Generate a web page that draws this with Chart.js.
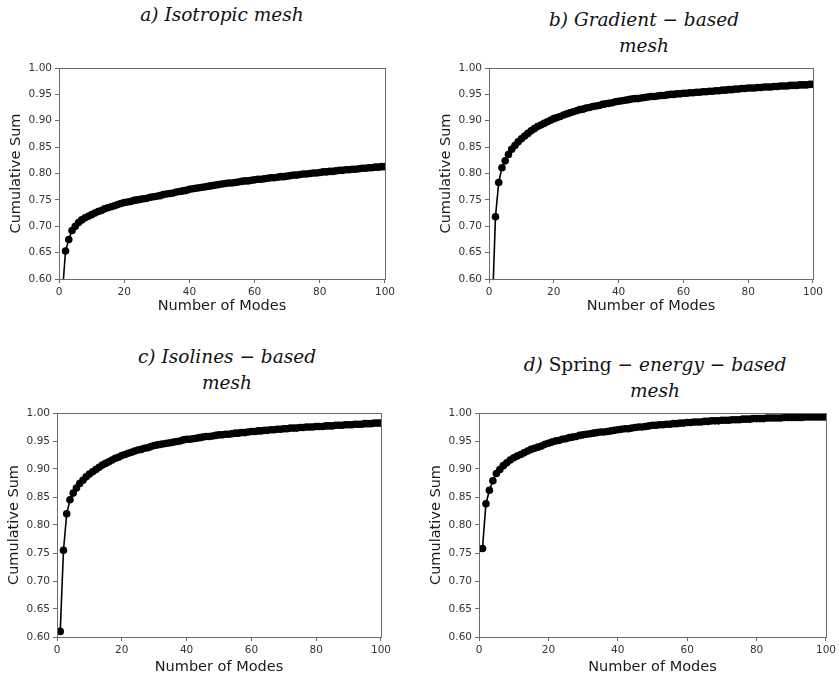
<!DOCTYPE html>
<html>
<head>
<meta charset="utf-8">
<script src="https://cdn.jsdelivr.net/npm/chart.js@4/dist/chart.umd.min.js"></script>
<style>
  body { margin: 0; background: #fff; width: 839px; height: 681px; position: relative; overflow: hidden; }
  canvas { position: absolute; }
  .ttl {
    position: absolute; width: 400px; text-align: center;
    font-family: "DejaVu Serif", serif; font-style: italic; font-size: 18.5px;
    line-height: 26px; color: #111; white-space: nowrap;
  }
  .up { font-style: normal; }
</style>
</head>
<body>
<div class="ttl" style="left:22px; top:2px;">a) Isotropic mesh</div>
<div class="ttl" style="left:444px; top:7px;">b) Gradient − based<br>mesh</div>
<div class="ttl" style="left:27px; top:344px;">c) Isolines − based<br>mesh</div>
<div class="ttl" style="left:455px; top:352px;">d) <span class="up">Spring</span> − energy − based<br>mesh</div>

<canvas id="chartA"></canvas>
<canvas id="chartB"></canvas>
<canvas id="chartC"></canvas>
<canvas id="chartD"></canvas>

<script>
// number of modes 1..100
const modes = Array.from({ length: 100 }, (_, i) => i + 1);

const xTicks = [0, 20, 40, 60, 80, 100];
const yTicks = [0.60, 0.65, 0.70, 0.75, 0.80, 0.85, 0.90, 0.95, 1.00];

// a) Isotropic mesh
const isotropic = [
  0.570, 0.653, 0.675, 0.692, 0.700, 0.707, 0.712, 0.716, 0.719, 0.722,
  0.725, 0.728, 0.730, 0.733, 0.735, 0.737, 0.739, 0.741, 0.743, 0.745,
  0.746, 0.747, 0.749, 0.750, 0.751, 0.752, 0.753, 0.755, 0.756, 0.757,
  0.758, 0.760, 0.761, 0.762, 0.763, 0.765, 0.766, 0.767, 0.768, 0.770,
  0.771, 0.772, 0.773, 0.774, 0.775, 0.776, 0.777, 0.778, 0.779, 0.780,
  0.781, 0.782, 0.782, 0.783, 0.784, 0.785, 0.786, 0.786, 0.787, 0.788,
  0.789, 0.789, 0.790, 0.791, 0.792, 0.792, 0.793, 0.794, 0.794, 0.795,
  0.796, 0.797, 0.797, 0.798, 0.799, 0.799, 0.800, 0.801, 0.801, 0.802,
  0.803, 0.803, 0.804, 0.804, 0.805, 0.806, 0.806, 0.807, 0.807, 0.808,
  0.808, 0.809, 0.810, 0.810, 0.811, 0.811, 0.812, 0.812, 0.813, 0.813
];

// b) Gradient-based mesh
const gradientBased = [
  0.540, 0.718, 0.783, 0.811, 0.824, 0.836, 0.846, 0.853, 0.860, 0.866,
  0.871, 0.876, 0.881, 0.885, 0.889, 0.892, 0.895, 0.898, 0.901, 0.904,
  0.906, 0.908, 0.911, 0.913, 0.915, 0.917, 0.919, 0.921, 0.922, 0.924,
  0.925, 0.927, 0.928, 0.929, 0.931, 0.932, 0.933, 0.934, 0.936, 0.937,
  0.938, 0.939, 0.940, 0.941, 0.942, 0.942, 0.943, 0.944, 0.945, 0.946,
  0.946, 0.947, 0.948, 0.948, 0.949, 0.950, 0.950, 0.951, 0.951, 0.952,
  0.952, 0.953, 0.953, 0.954, 0.954, 0.955, 0.955, 0.956, 0.956, 0.957,
  0.957, 0.958, 0.958, 0.959, 0.959, 0.960, 0.960, 0.961, 0.961, 0.962,
  0.962, 0.962, 0.963, 0.963, 0.964, 0.964, 0.964, 0.965, 0.965, 0.966,
  0.966, 0.966, 0.967, 0.967, 0.967, 0.968, 0.968, 0.968, 0.969, 0.969
];

// c) Isolines-based mesh
const isolinesBased = [
  0.610, 0.755, 0.820, 0.845, 0.857, 0.866, 0.874, 0.880, 0.886, 0.891,
  0.895, 0.899, 0.903, 0.907, 0.910, 0.913, 0.916, 0.919, 0.921, 0.924,
  0.926, 0.928, 0.930, 0.932, 0.934, 0.935, 0.937, 0.938, 0.940, 0.942,
  0.943, 0.944, 0.945, 0.946, 0.947, 0.948, 0.949, 0.950, 0.952, 0.953,
  0.953, 0.954, 0.955, 0.956, 0.957, 0.958, 0.958, 0.959, 0.960, 0.961,
  0.961, 0.962, 0.962, 0.963, 0.964, 0.964, 0.965, 0.965, 0.966, 0.967,
  0.967, 0.968, 0.968, 0.969, 0.969, 0.970, 0.970, 0.971, 0.971, 0.972,
  0.972, 0.973, 0.973, 0.973, 0.974, 0.974, 0.975, 0.975, 0.975, 0.976,
  0.976, 0.976, 0.977, 0.977, 0.977, 0.978, 0.978, 0.978, 0.979, 0.979,
  0.979, 0.980, 0.980, 0.980, 0.981, 0.981, 0.981, 0.982, 0.982, 0.982
];

// d) Spring-energy-based mesh
const springEnergy = [
  0.758, 0.838, 0.862, 0.879, 0.892, 0.899, 0.906, 0.911, 0.916, 0.920,
  0.923, 0.926, 0.929, 0.932, 0.935, 0.937, 0.939, 0.941, 0.944, 0.946,
  0.948, 0.950, 0.951, 0.953, 0.954, 0.956, 0.957, 0.958, 0.960, 0.961,
  0.962, 0.963, 0.964, 0.965, 0.966, 0.966, 0.967, 0.968, 0.969, 0.970,
  0.971, 0.972, 0.972, 0.973, 0.974, 0.975, 0.975, 0.976, 0.977, 0.978,
  0.978, 0.979, 0.979, 0.980, 0.980, 0.981, 0.981, 0.982, 0.982, 0.983,
  0.983, 0.984, 0.984, 0.984, 0.985, 0.985, 0.986, 0.986, 0.986, 0.987,
  0.987, 0.987, 0.988, 0.988, 0.988, 0.989, 0.989, 0.989, 0.990, 0.990,
  0.990, 0.990, 0.991, 0.991, 0.991, 0.991, 0.991, 0.992, 0.992, 0.992,
  0.992, 0.992, 0.992, 0.993, 0.993, 0.993, 0.993, 0.993, 0.993, 0.993
];

// draws the full box around the plot area, like matplotlib
const framePlugin = {
  id: 'frame',
  afterDraw(chart) {
    const { ctx, chartArea: a } = chart;
    ctx.save();
    ctx.strokeStyle = '#6b6b6b';
    ctx.lineWidth = 1;
    ctx.strokeRect(Math.round(a.left) + 0.5, Math.round(a.top) + 0.5,
      Math.round(a.right - a.left), Math.round(a.bottom - a.top));
    ctx.restore();
  }
};

const tickFont = { family: 'DejaVu Sans', size: 10.5 };
const titleFont = { family: 'DejaVu Sans', size: 14.5 };

// plot area box in page pixels -> canvas placed around it
function makeChart(id, values, box, xAxisH) {
  const canvas = document.getElementById(id);
  const padL = 4, padT = 12, padR = 10, yAxisW = 55;
  const w = (box.right - box.left) + yAxisW + padL + padR;
  const h = (box.bottom - box.top) + padT + xAxisH;
  canvas.width = w;
  canvas.height = h;
  canvas.style.left = (box.left - yAxisW - padL) + 'px';
  canvas.style.top = (box.top - padT) + 'px';

  return new Chart(canvas, {
    type: 'line',
    data: {
      datasets: [{
        data: modes.map((m, i) => ({ x: m, y: values[i] })),
        borderColor: '#000',
        borderWidth: 1.6,
        pointRadius: 3.8,
        pointBackgroundColor: '#000',
        pointBorderWidth: 0,
        tension: 0,
        clip: 0
      }]
    },
    options: {
      responsive: false,
      animation: false,
      devicePixelRatio: 1,
      layout: { padding: { left: padL, top: padT, right: padR, bottom: 0 } },
      plugins: { legend: { display: false }, tooltip: { enabled: false } },
      scales: {
        x: {
          type: 'linear',
          min: 0, max: 100,
          afterBuildTicks: s => { s.ticks = xTicks.map(v => ({ value: v })); },
          afterFit: s => { s.height = xAxisH; },
          border: { display: false },
          grid: { drawOnChartArea: false, drawTicks: true, tickLength: 4, color: '#6b6b6b' },
          ticks: { font: tickFont, color: '#333', padding: 3, maxRotation: 0 },
          title: { display: true, text: 'Number of Modes', font: titleFont, color: '#1a1a1a' }
        },
        y: {
          min: 0.6, max: 1.0,
          afterBuildTicks: s => { s.ticks = yTicks.map(v => ({ value: v })); },
          afterFit: s => { s.width = yAxisW; },
          border: { display: false },
          grid: { drawOnChartArea: false, drawTicks: true, tickLength: 4, color: '#6b6b6b' },
          ticks: { font: tickFont, color: '#333', padding: 3, callback: v => v.toFixed(2) },
          title: { display: true, text: 'Cumulative Sum', font: titleFont, color: '#1a1a1a' }
        }
      }
    },
    plugins: [framePlugin]
  });
}

makeChart('chartA', isotropic, { left: 59, top: 68, right: 388, bottom: 279 }, 40);
makeChart('chartB', gradientBased, { left: 489, top: 68, right: 816, bottom: 279 }, 40);
makeChart('chartC', isolinesBased, { left: 57, top: 413, right: 384, bottom: 637 }, 43);
makeChart('chartD', springEnergy, { left: 479, top: 413, right: 829, bottom: 637 }, 43);
</script>
</body>
</html>
